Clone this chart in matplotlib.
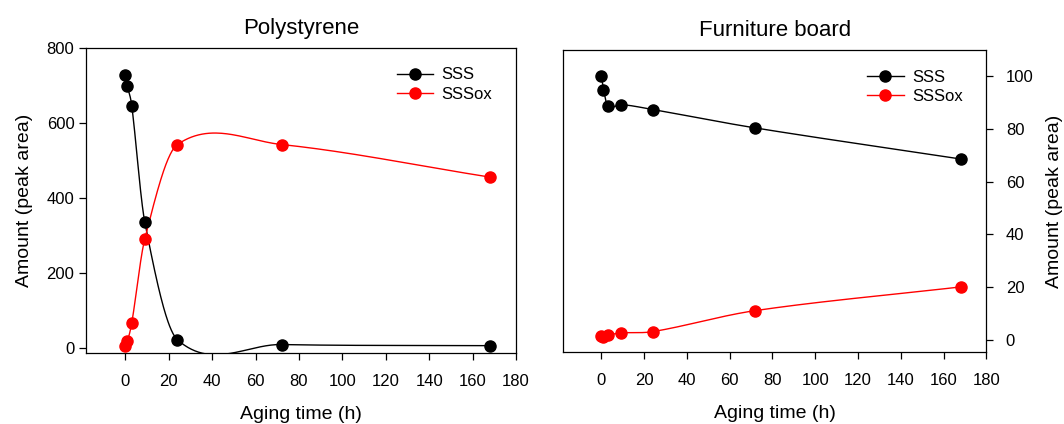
import numpy as np
import matplotlib
matplotlib.use("Agg")
import matplotlib.pyplot as plt

plt.rcParams["font.family"] = ["Liberation Sans", "DejaVu Sans"]

# ── Data ──────────────────────────────────────────────────────────────────────
aging_time = [0, 1, 3, 9, 24, 72, 168]

ps_sss = [728, 697, 645, 335, 21, 8, 5]
ps_sssox = [5, 17, 66, 290, 542, 542, 455]

fb_sss = [100, 95, 88.6, 89.3, 87.4, 80.4, 68.6]
fb_sssox = [1.3, 0.9, 1.6, 2.5, 3.0, 11.0, 20.0]


def hermite_curve(x, y, per_seg=60):
    """Smooth curve through the points (cubic Hermite, finite-difference slopes)."""
    x = np.asarray(x, float)
    y = np.asarray(y, float)
    m = np.empty_like(y)
    m[1:-1] = (y[2:] - y[:-2]) / (x[2:] - x[:-2])
    m[0] = (y[1] - y[0]) / (x[1] - x[0])
    m[-1] = (y[-1] - y[-2]) / (x[-1] - x[-2])
    xs_all, ys_all = [], []
    for i in range(len(x) - 1):
        h = x[i + 1] - x[i]
        t = np.linspace(0, 1, per_seg)
        h00 = 2 * t**3 - 3 * t**2 + 1
        h10 = t**3 - 2 * t**2 + t
        h01 = -2 * t**3 + 3 * t**2
        h11 = t**3 - t**2
        xs_all.append(x[i] + t * h)
        ys_all.append(h00 * y[i] + h10 * h * m[i] + h01 * y[i + 1] + h11 * h * m[i + 1])
    return np.concatenate(xs_all), np.concatenate(ys_all)


def draw_panel(ax, sss, sssox, title):
    for vals, col, name in [(sss, "black", "SSS"), (sssox, "red", "SSSox")]:
        xs, ys = hermite_curve(aging_time, vals)
        ax.plot(xs, ys, color=col, lw=1.0)
        ax.plot(aging_time, vals, "o", color=col, ms=8, zorder=3)
        ax.plot([], [], "-o", color=col, ms=8, lw=1.0, label=name)
    ax.set_title(title, fontsize=16, pad=10)
    ax.set_xlim(-18, 180)
    ax.set_xticks(range(0, 181, 20))
    ax.set_xlabel("Aging time (h)", fontsize=14, labelpad=12.5)
    ax.tick_params(labelsize=12, length=5, width=0.9, direction="out")
    ax.tick_params(axis="x", pad=10)
    for s in ax.spines.values():
        s.set_linewidth(0.9)
    ax.legend(loc="upper right", frameon=False, fontsize=12, handlelength=2.2,
              handletextpad=0.5, labelspacing=0.25, bbox_to_anchor=(0.98, 0.985))


fig = plt.figure(figsize=(10.64, 4.24), dpi=100)
ax1 = fig.add_axes([0.081, 0.168, 0.404, 0.719])
ax2 = fig.add_axes([0.529, 0.170, 0.398, 0.712])

draw_panel(ax1, ps_sss, ps_sssox, "Polystyrene")
ax1.set_ylim(-14, 800)
ax1.set_yticks(range(0, 801, 200))
ax1.set_ylabel("Amount (peak area)", fontsize=14, labelpad=10)

draw_panel(ax2, fb_sss, fb_sssox, "Furniture board")
ax2.set_ylim(-4.7, 110)
ax2.set_yticks(range(0, 101, 20))
ax2.yaxis.tick_right()
ax2.tick_params(axis="y", pad=9)
ax2.yaxis.set_label_position("right")
ax2.set_ylabel("Amount (peak area)", fontsize=14, labelpad=9)

fig.savefig("out.png", dpi=100)
